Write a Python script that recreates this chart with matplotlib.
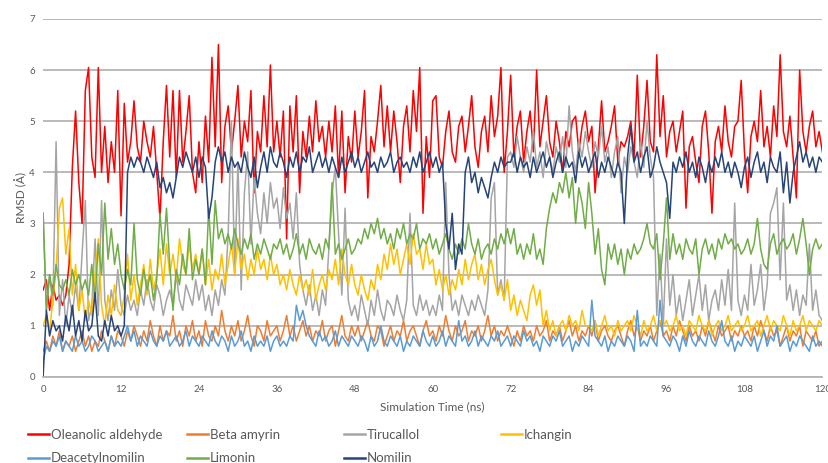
#! /bin/env python3
# plot.py
# RMSD traces of the seven ligands over the 120 ns simulation
# values were read off the reference picture every 0.5 ns

import numpy as np
import matplotlib
matplotlib.use("Agg")
import matplotlib.pyplot as plt

plt.rcParams['font.family'] = ['Lato', 'DejaVu Sans']

# time between two read values (ns)
STEP = 0.5

oleanolic_aldehyde = [
    1.7, 1.9, 1.3, 1.8, 1.5, 1.6, 1.4, 1.6, 2.2, 4.1, 5.2, 3.8, 3.0, 5.6, 6.05, 4.3, 3.9, 6.05, 4.0, 4.9, 3.8, 4.6, 4.0, 5.6,
    3.15, 5.35, 4.2, 4.6, 5.4, 4.5, 4.2, 5.0, 4.6, 4.3, 4.9, 4.0, 3.1, 4.6, 5.7, 4.3, 5.6, 3.9, 5.6, 4.2, 4.8, 5.5, 4.0, 3.6,
    4.6, 3.8, 5.1, 4.2, 6.25, 4.5, 6.5, 3.8, 4.9, 5.3, 4.4, 5.0, 5.7, 4.3, 5.0, 4.6, 5.6, 3.6, 4.8, 4.4, 5.5, 4.5, 6.1, 4.4,
    5.0, 4.3, 5.2, 2.7, 5.3, 4.4, 5.5, 3.6, 4.8, 4.3, 5.1, 4.4, 5.4, 4.6, 4.9, 4.3, 5.0, 4.4, 5.3, 3.9, 5.2, 3.6, 4.7, 4.2,
    5.2, 4.3, 4.8, 5.6, 3.5, 4.7, 4.4, 5.0, 5.7, 4.5, 5.3, 4.4, 5.2, 4.6, 3.8, 4.9, 5.3, 4.4, 5.6, 4.8, 6.05, 3.2, 4.7, 3.9,
    5.4, 5.5, 4.3, 4.1, 4.8, 5.2, 4.4, 4.2, 4.9, 5.1, 4.4, 4.9, 5.5, 4.5, 4.1, 4.8, 5.1, 4.4, 5.5, 4.7, 5.1, 6.05, 4.0, 4.8,
    5.9, 4.3, 4.9, 5.2, 4.2, 4.8, 5.2, 4.4, 6.0, 4.5, 5.0, 5.5, 4.6, 4.3, 5.0, 4.6, 4.0, 4.8, 4.5, 5.0, 5.1, 4.4, 4.9, 5.2,
    4.6, 4.9, 3.6, 4.5, 5.4, 4.4, 4.6, 4.9, 5.3, 4.2, 4.6, 4.5, 4.7, 5.0, 4.3, 5.9, 4.3, 4.9, 5.8, 4.6, 4.4, 6.3, 4.7, 5.5,
    4.3, 4.8, 5.0, 4.4, 4.8, 5.2, 3.3, 4.5, 4.7, 4.2, 3.8, 4.9, 5.2, 4.4, 3.2, 4.6, 4.9, 4.4, 5.3, 4.6, 4.3, 4.9, 5.0, 5.8,
    4.4, 3.6, 4.7, 5.0, 4.6, 5.6, 4.5, 4.9, 4.3, 5.3, 4.7, 6.3, 4.8, 4.5, 5.1, 4.3, 3.5, 6.0, 4.8, 4.4, 4.9, 5.2, 4.5, 4.8,
    4.4,
]

beta_amyrin = [
    0.5, 0.7, 0.5, 0.8, 0.6, 0.9, 0.5, 0.7, 0.6, 0.8, 0.5, 0.7, 0.9, 0.6, 0.8, 0.5, 0.7, 0.6, 0.9, 0.7, 0.5, 0.8, 0.6, 0.9,
    0.8, 0.6, 0.9, 0.7, 1.0, 0.8, 0.6, 0.9, 0.7, 1.1, 0.8, 0.6, 1.0, 0.7, 0.9, 0.8, 1.2, 0.7, 0.9, 0.6, 1.0, 0.8, 1.1, 0.7,
    0.9, 0.6, 1.1, 0.8, 0.7, 1.0, 0.8, 1.3, 0.9, 0.7, 1.0, 0.8, 1.1, 0.7, 0.9, 1.2, 0.8, 0.6, 1.0, 0.9, 0.7, 1.1, 0.8, 0.9,
    1.0, 0.7, 0.9, 1.2, 0.8, 1.0, 0.7, 0.9, 1.1, 0.8, 1.0, 0.7, 0.9, 0.8, 1.1, 0.7, 0.9, 1.0, 0.6, 0.9, 1.2, 0.8, 0.7, 1.0,
    0.8, 1.0, 0.7, 0.9, 1.1, 0.8, 0.7, 1.0, 0.9, 0.6, 0.8, 1.0, 0.7, 0.9, 0.8, 1.1, 0.7, 0.9, 1.0, 0.8, 0.6, 0.9, 1.1, 0.8,
    0.9, 0.7, 1.0, 0.8, 1.2, 0.9, 0.7, 1.0, 0.8, 0.9, 1.1, 0.7, 0.9, 0.8, 1.0, 0.7, 0.9, 1.2, 0.8, 1.0, 0.7, 0.9, 0.8, 1.0,
    0.8, 0.6, 0.9, 0.7, 1.0, 0.8, 0.9, 0.7, 1.0, 0.8, 0.9, 1.1, 0.7, 0.9, 0.8, 1.0, 0.7, 0.9, 1.1, 0.8, 1.0, 0.7, 0.9, 0.8,
    1.0, 0.8, 1.1, 0.7, 0.9, 1.0, 0.8, 0.7, 0.9, 1.0, 0.8, 0.6, 0.9, 1.1, 0.8, 1.0, 0.7, 0.9, 0.8, 1.0, 0.7, 0.9, 1.1, 0.8,
    0.9, 0.7, 1.0, 0.8, 1.1, 0.9, 0.7, 1.0, 0.8, 0.9, 0.7, 1.0, 0.8, 1.1, 0.9, 0.7, 1.0, 0.8, 0.9, 1.0, 0.7, 0.9, 0.8, 1.0,
    0.8, 0.9, 0.7, 1.0, 0.8, 1.1, 0.9, 0.7, 1.0, 0.8, 0.9, 0.6, 0.8, 1.0, 0.7, 0.9, 0.8, 1.0, 0.6, 0.9, 0.8, 0.7, 0.9, 0.6,
    0.7,
]

tirucallol = [
    3.2, 1.3, 2.0, 1.4, 4.6, 1.2, 1.9, 1.0, 1.6, 1.2, 1.8, 1.3, 2.4, 3.45, 1.1, 1.4, 2.7, 1.2, 3.45, 1.5, 1.1, 1.7, 1.3, 2.1,
    1.4, 1.2, 1.6, 1.3, 1.5, 1.2, 1.7, 1.4, 1.9, 1.5, 1.3, 1.8, 1.6, 1.2, 1.5, 1.7, 1.4, 2.0, 1.5, 1.3, 1.8, 1.6, 1.4, 1.9,
    1.5, 1.8, 1.3, 1.6, 1.2, 1.7, 1.4, 1.9, 1.6, 2.8, 5.0, 2.0, 4.2, 1.7, 3.6, 4.4, 2.6, 3.9, 3.2, 2.8, 3.6, 3.0, 3.8, 3.3,
    3.5, 2.9, 3.7, 3.1, 3.4, 2.7, 3.6, 2.2, 1.7, 1.4, 1.8, 1.3, 1.6, 1.2, 1.7, 1.4, 2.5, 3.6, 4.1, 2.8, 1.6, 3.3, 1.5, 1.2,
    1.4, 1.1, 1.6, 1.3, 1.0, 1.5, 1.2, 1.7, 1.3, 1.1, 1.5, 1.4, 1.2, 1.6, 1.3, 1.1, 1.5, 3.2, 1.4, 1.2, 1.6, 1.3, 1.5, 1.2,
    1.4, 1.2, 1.6, 1.3, 3.8, 2.0, 1.3, 1.5, 1.2, 1.6, 1.4, 1.2, 1.5, 1.3, 1.6, 1.4, 1.2, 1.7, 3.5, 3.8, 1.6, 1.9, 1.5, 4.3,
    4.4, 4.1, 4.7, 4.3, 4.0, 4.5, 4.2, 4.8, 4.1, 4.4, 3.9, 4.6, 4.3, 4.0, 4.5, 4.2, 4.7, 4.1, 5.3, 4.4, 4.0, 4.6, 4.3, 4.8,
    4.4, 4.1, 4.6, 4.3, 4.9, 4.2, 4.5, 3.9, 4.4, 4.7, 3.6, 4.3, 4.0, 4.5, 4.2, 3.9, 4.6, 4.1, 5.0, 4.3, 3.9, 1.2, 2.4, 1.0,
    2.7, 1.4, 2.0, 1.2, 1.6, 1.1, 1.5, 1.9, 1.2, 1.6, 2.0, 1.3, 1.8, 1.1, 1.5, 1.7, 1.3, 1.9, 1.4, 2.1, 1.3, 3.4, 1.5, 1.2,
    1.6, 1.3, 2.2, 1.4, 1.7, 2.2, 1.3, 1.8, 3.2, 3.4, 3.7, 1.9, 3.4, 1.5, 1.8, 1.3, 1.7, 1.2, 1.6, 1.4, 2.6, 1.3, 1.7, 1.2,
    1.1,
]

ichangin = [
    1.0, 1.2, 0.9, 1.5, 2.1, 3.3, 3.5, 2.4, 2.9, 1.6, 2.2, 1.3, 1.7, 1.1, 1.5, 1.2, 2.0, 2.7, 1.4, 1.0, 1.6, 1.2, 1.8, 1.3,
    1.2, 1.6, 2.4, 1.5, 2.0, 1.4, 1.8, 2.2, 1.6, 2.3, 1.7, 2.0, 2.5, 1.8, 2.6, 2.0, 2.4, 1.9, 2.7, 2.2, 2.0, 2.6, 2.1, 2.4,
    2.0, 2.5, 1.8, 2.3, 1.7, 2.1, 1.9, 2.4, 1.8, 2.2, 2.6, 2.0, 2.7, 2.1, 2.4, 1.9, 2.3, 2.0, 2.5, 2.1, 2.3, 1.9, 2.4, 2.0,
    2.2, 1.8, 2.0, 1.7, 2.1, 1.8, 1.6, 2.0, 1.7, 1.9, 1.6, 2.1, 1.5, 1.8, 2.0, 1.7, 2.1, 1.9, 2.3, 1.8, 2.5, 2.0, 1.8, 2.2,
    1.8, 1.6, 2.0, 1.7, 1.5, 1.9, 1.7, 2.2, 1.9, 2.4, 2.1, 2.6, 2.2, 2.5, 2.0, 2.3, 2.6, 2.2, 2.8, 2.4, 2.5, 2.1, 2.6, 2.2,
    2.3, 1.8, 2.1, 1.7, 2.0, 1.6, 1.9, 1.7, 2.1, 1.8, 2.3, 1.9, 2.2, 2.4, 1.9, 2.2, 1.8, 2.1, 2.3, 1.9, 1.6, 1.8, 1.5, 1.9,
    1.3, 1.6, 1.2, 1.5, 1.3, 1.1, 1.6, 1.8, 1.4, 1.7, 1.0, 1.3, 0.9, 1.1, 0.8, 1.0, 1.1, 0.9, 1.2, 1.0, 1.1, 0.9, 1.3, 1.0,
    1.0, 0.9, 1.1, 0.8, 1.0, 1.2, 0.9, 1.0, 0.8, 1.1, 0.9, 1.0, 1.1, 0.9, 1.2, 1.0, 0.8, 1.1, 0.9, 1.0, 1.2, 0.9, 1.1, 1.0,
    1.1, 0.9, 1.0, 1.2, 0.9, 1.0, 0.8, 1.1, 1.0, 0.9, 1.2, 1.0, 0.9, 1.1, 0.8, 1.0, 1.1, 0.9, 1.0, 1.2, 0.9, 1.0, 1.1, 0.9,
    1.0, 1.2, 0.9, 1.0, 1.1, 0.8, 1.0, 1.2, 0.9, 1.1, 1.0, 0.9, 1.2, 1.0, 0.8, 1.1, 0.9, 1.0, 1.2, 0.9, 1.1, 1.0, 0.9, 1.1,
    1.0,
]

deacetylnomilin = [
    0.3, 0.6, 0.5, 0.7, 0.6, 0.8, 0.5, 0.7, 0.6, 0.5, 0.8, 0.6, 0.7, 0.5, 0.6, 0.8, 0.7, 0.5, 0.6, 0.7, 0.5, 0.8, 0.6, 0.7,
    0.6, 0.8, 1.0, 0.7, 0.9, 0.6, 0.8, 0.7, 0.6, 0.9, 0.7, 0.6, 0.8, 0.7, 0.9, 0.6, 0.7, 0.8, 0.6, 0.7, 0.9, 0.6, 0.8, 0.7,
    0.6, 0.8, 0.7, 0.6, 0.9, 0.7, 0.6, 0.8, 0.7, 0.5, 0.8, 0.6, 0.7, 0.9, 0.6, 0.7, 0.5, 0.8, 0.6, 0.7, 0.6, 0.8, 0.5, 0.7,
    0.8, 0.6, 0.7, 0.6, 0.8, 0.7, 1.4, 1.1, 1.3, 1.0, 0.8, 0.7, 0.6, 0.9, 0.7, 0.8, 0.6, 0.7, 0.9, 0.6, 0.8, 0.7, 0.6, 0.8,
    0.7, 0.6, 0.8, 0.7, 0.5, 0.8, 0.6, 0.7, 1.0, 0.7, 0.6, 0.8, 0.7, 0.6, 0.8, 0.5, 0.7, 0.6, 0.8, 0.7, 0.6, 0.9, 0.7, 0.6,
    0.8, 0.6, 0.7, 0.9, 0.6, 0.8, 0.7, 0.6, 1.1, 0.7, 0.8, 0.6, 0.7, 0.9, 0.6, 0.8, 0.7, 0.6, 0.8, 0.7, 0.9, 0.6, 0.7, 0.8,
    0.6, 0.8, 0.7, 0.6, 0.9, 0.7, 0.8, 0.6, 0.7, 0.5, 0.8, 0.7, 0.6, 0.8, 0.7, 0.9, 0.6, 0.7, 0.8, 0.5, 0.7, 0.6, 0.8, 0.7,
    0.6, 1.5, 0.8, 0.7, 0.6, 0.8, 0.5, 0.7, 0.6, 0.8, 0.7, 0.6, 0.8, 0.7, 0.5, 1.3, 0.6, 0.7, 0.6, 0.8, 0.7, 0.6, 1.5, 0.8,
    0.7, 0.6, 0.8, 0.7, 0.5, 0.8, 0.6, 0.9, 0.7, 0.6, 0.8, 0.7, 0.6, 0.9, 0.7, 0.6, 0.8, 1.1, 0.7, 0.6, 0.8, 0.5, 0.7, 0.6,
    0.8, 0.7, 0.6, 0.8, 0.5, 0.7, 0.9, 0.6, 0.8, 0.7, 1.0, 0.6, 0.7, 0.8, 0.5, 0.7, 0.6, 0.8, 0.7, 0.6, 0.5, 0.8, 0.6, 0.7,
    0.6,
]

limonin = [
    3.2, 1.3, 2.0, 1.6, 2.2, 1.8, 1.7, 1.9, 1.6, 2.1, 1.8, 2.0, 1.7, 1.9, 1.6, 2.2, 1.5, 2.6, 2.0, 3.4, 2.3, 2.9, 2.2, 2.6,
    2.0, 1.7, 2.1, 1.8, 3.0, 1.9, 1.6, 2.1, 1.7, 2.0, 1.5, 1.9, 3.2, 2.4, 3.3, 2.2, 1.3, 2.1, 1.8, 2.4, 2.0, 2.9, 1.9, 2.3,
    2.0, 2.5, 1.8, 3.3, 2.2, 3.45, 2.7, 2.9, 2.6, 2.8, 2.5, 2.9, 2.6, 2.4, 2.7, 2.5, 2.8, 2.3, 2.6, 2.4, 2.7, 2.5, 2.3, 2.6,
    2.5, 2.7, 2.4, 2.6, 2.3, 2.5, 2.8, 2.4, 2.6, 2.3, 2.7, 2.5, 2.4, 2.6, 2.3, 2.7, 2.5, 3.8, 2.4, 2.6, 2.3, 2.5, 2.7, 2.4,
    2.5, 2.7, 2.6, 2.9, 2.7, 3.0, 2.8, 3.1, 2.7, 2.9, 2.6, 2.8, 2.5, 2.9, 2.7, 3.0, 2.6, 2.8, 2.7, 3.0, 2.5, 2.7, 2.6, 2.8,
    2.5, 2.7, 2.4, 2.6, 2.8, 2.5, 2.3, 2.6, 2.4, 2.7, 2.5, 3.0, 2.6, 2.4, 2.7, 2.3, 2.5, 2.6, 2.4, 2.7, 2.5, 2.8, 2.6, 2.9,
    2.6, 2.9, 2.4, 2.6, 2.3, 2.6, 2.4, 2.8, 2.3, 2.5, 2.2, 2.9, 3.3, 3.6, 3.4, 3.8, 3.6, 4.0, 3.5, 3.9, 3.0, 3.7, 3.4, 2.9,
    3.8, 3.2, 2.4, 2.9, 2.1, 1.8, 2.6, 2.3, 2.6, 2.2, 2.5, 2.0, 2.5, 2.3, 2.6, 2.4, 2.5, 2.7, 3.0, 2.6, 2.5, 2.8, 1.9, 2.6,
    3.5, 2.3, 2.8, 2.4, 2.6, 2.3, 2.7, 2.5, 2.4, 2.7, 2.0, 2.5, 2.7, 2.4, 2.6, 2.3, 2.7, 2.5, 2.8, 2.6, 2.7, 2.5, 2.6, 2.4,
    2.5, 2.7, 2.4, 2.6, 3.1, 2.5, 2.2, 2.1, 2.6, 2.8, 2.4, 2.6, 2.7, 2.5, 2.6, 2.8, 2.4, 2.7, 3.1, 2.6, 2.0, 2.5, 2.7, 2.5,
    2.6,
]

nomilin = [
    0.0, 1.3, 0.8, 1.1, 0.9, 1.0, 0.7, 1.2, 0.9, 1.4, 0.8, 1.1, 0.7, 1.3, 0.9, 1.0, 1.65, 0.8, 0.7, 1.1, 0.8, 1.2, 0.9, 1.0,
    0.8, 1.0, 4.0, 4.3, 4.1, 4.3, 4.2, 4.0, 4.3, 4.1, 3.9, 4.2, 3.7, 3.9, 3.6, 3.8, 3.5, 3.9, 4.3, 4.1, 4.4, 4.2, 4.0, 4.3,
    3.9, 4.3, 4.1, 3.1, 3.5, 4.2, 4.5, 4.2, 4.4, 4.0, 4.3, 4.1, 4.2, 4.0, 4.4, 4.1, 3.9, 4.3, 3.7, 4.1, 4.4, 4.0, 4.5, 4.2,
    4.1, 4.4, 4.2, 3.9, 4.3, 4.1, 4.4, 4.0, 4.3, 4.2, 4.5, 4.0, 4.2, 4.4, 4.1, 4.3, 4.0, 4.3, 4.1, 3.9, 4.3, 4.0, 4.2, 4.4,
    4.1, 4.3, 4.0, 4.2, 4.4, 4.1, 4.2, 4.0, 4.3, 4.1, 4.2, 4.4, 4.0, 4.2, 4.3, 4.1, 4.2, 4.0, 4.3, 4.1, 4.4, 4.0, 4.2, 4.4,
    4.1, 4.3, 4.0, 4.2, 3.0, 2.5, 3.2, 2.1, 2.6, 2.4, 4.0, 4.3, 3.8, 4.0, 3.6, 3.9, 3.7, 3.5, 3.9, 4.2, 4.0, 4.3, 4.1, 4.2,
    4.2, 4.4, 4.0, 4.3, 4.1, 4.2, 3.9, 4.3, 4.0, 4.2, 4.4, 4.1, 4.3, 3.9, 4.2, 4.4, 4.0, 4.3, 4.1, 4.2, 3.8, 4.4, 4.1, 4.3,
    4.0, 4.2, 4.4, 3.9, 4.2, 4.0, 4.3, 4.1, 3.9, 4.2, 4.0, 3.0, 4.3, 4.9, 4.2, 4.4, 4.0, 4.3, 4.5, 3.9, 4.1, 4.5, 4.2, 4.0,
    3.8, 3.1, 4.2, 4.0, 4.3, 4.1, 4.4, 4.0, 4.2, 3.9, 4.3, 4.1, 3.8, 4.2, 4.0, 4.3, 4.1, 4.4, 4.0, 4.2, 3.9, 4.2, 4.0, 3.7,
    4.1, 4.3, 3.9, 4.2, 4.4, 4.0, 4.2, 3.8, 4.3, 4.1, 4.0, 4.4, 3.6, 4.2, 3.4, 4.0, 4.3, 4.6, 4.2, 4.4, 4.1, 4.3, 4.0, 4.3,
    4.2,
]

# series in the order excel stacks them (last one drawn on top)
series = [oleanolic_aldehyde, beta_amyrin, tirucallol, ichangin,
          deacetylnomilin, limonin, nomilin]
names = ["Oleanolic aldehyde", "Beta amyrin", "Tirucallol", "Ichangin",
         "Deacetylnomilin", "Limonin", "Nomilin"]
colors = ["#ff0000", "#ed7d31", "#a5a5a5", "#ffc000",
          "#5b9bd5", "#70ad47", "#264478"]

x_ticks = list(range(0, 121, 12))
y_ticks = list(range(0, 8))

GRID = "#b4b4b4"
TEXT = "#595959"

fig = plt.figure(figsize=(8.29, 4.63), dpi=100)
ax = fig.add_axes([0.052, 0.186, 0.940, 0.773])

lines = []
for y, name, c in zip(series, names, colors):
    t = np.arange(len(y)) * STEP
    ln, = ax.plot(t, y, color=c, lw=1.1, label=name)
    lines.append(ln)

ax.set_xlim(0, 120)
ax.set_ylim(0, 7)
ax.set_xticks(x_ticks)
ax.set_yticks(y_ticks)
ax.grid(axis='y', color=GRID, lw=1.3)
ax.set_axisbelow(True)
for s in ['top', 'right', 'left']:
    ax.spines[s].set_visible(False)
ax.spines['bottom'].set_color(GRID)
ax.spines['bottom'].set_linewidth(1.3)
ax.tick_params(length=0, labelsize=7, colors=TEXT)
ax.tick_params(axis='x', pad=6)
ax.tick_params(axis='y', pad=6)
ax.set_xlabel("Simulation Time (ns)", fontsize=8.5, color=TEXT, labelpad=5)
ax.set_ylabel("RMSD (Å)", fontsize=8.5, color=TEXT, labelpad=1)

# legend: 4 columns, 2 rows, placed column by column like excel does
col_x = [28, 187, 344, 501]
col_items = [[0, 4], [1, 5], [2, 6], [3]]
for cx, items in zip(col_x, col_items):
    leg = fig.legend([lines[i] for i in items], [names[i] for i in items],
                     loc='upper left', bbox_to_anchor=(cx / 829, 1 - 429 / 463),
                     frameon=False, fontsize=9.5, handlelength=1.6,
                     handletextpad=0.15, borderpad=0, borderaxespad=0,
                     labelspacing=0.85, labelcolor=TEXT)
    for h in leg.legend_handles:
        h.set_linewidth(1.8)

fig.savefig("out.png", dpi=100)
